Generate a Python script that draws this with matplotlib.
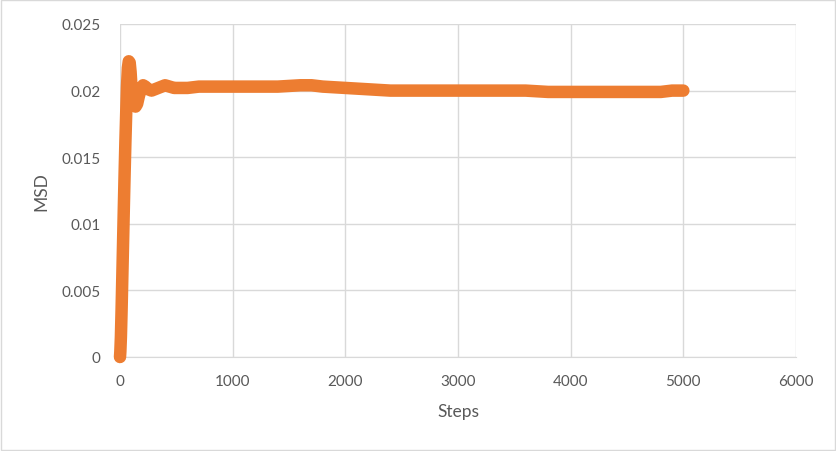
import matplotlib.pyplot as plt
from matplotlib.patches import Rectangle

# 读取的数据点（从图中估计）
steps = [0, 3, 8, 14, 20, 27, 34, 41, 48, 55, 62, 70, 78, 86, 94, 102, 112, 124,
         138, 152, 168, 185, 205, 225, 250, 280, 310, 340, 370, 400, 440, 480,
         520, 600, 700, 800, 900, 1000, 1200, 1400, 1600, 1700, 1800, 2000,
         2200, 2400, 2600, 2800, 3000, 3200, 3400, 3600, 3800, 4000, 4200,
         4400, 4600, 4800, 4900, 5000]
msd = [0.0, 0.0004, 0.0015, 0.0035, 0.0058, 0.0085, 0.0112, 0.0138, 0.0162,
       0.0183, 0.0203, 0.0217, 0.0222, 0.0221, 0.0214, 0.0203, 0.0195, 0.0190,
       0.0188, 0.0190, 0.0196, 0.0201, 0.0204, 0.0203, 0.0201, 0.0200, 0.0201,
       0.0202, 0.0203, 0.0204, 0.0203, 0.0202, 0.0202, 0.0202, 0.0203, 0.0203,
       0.0203, 0.0203, 0.0203, 0.0203, 0.0204, 0.0204, 0.0203, 0.0202,
       0.0201, 0.0200, 0.0200, 0.0200, 0.0200, 0.0200, 0.0200, 0.0200,
       0.0199, 0.0199, 0.0199, 0.0199, 0.0199, 0.0199, 0.0200, 0.0200]

x_ticks = [0, 1000, 2000, 3000, 4000, 5000, 6000]
y_ticks = [0, 0.005, 0.01, 0.015, 0.02, 0.025]
y_labels = ["0", "0.005", "0.01", "0.015", "0.02", "0.025"]

plt.rcParams['font.family'] = ['Lato', 'DejaVu Sans']
text_color = '#595959'
grid_color = '#D9D9D9'
orange = '#ED7D31'

fig = plt.figure(figsize=(8.37, 4.52), dpi=100)
ax = fig.add_axes([120 / 837, (452 - 358) / 452, 676 / 837, 333 / 452])

ax.plot(steps, msd, color=orange, linewidth=9,
        solid_capstyle='round', solid_joinstyle='round', zorder=3, clip_on=False)

ax.set_xlim(0, 6000)
ax.set_ylim(0, 0.025)
ax.set_xticks(x_ticks)
ax.set_yticks(y_ticks)
ax.set_yticklabels(y_labels)
ax.grid(True, color=grid_color, linewidth=1)
ax.set_axisbelow(True)
for s in ['top', 'right', 'left']:
    ax.spines[s].set_visible(False)
ax.spines['bottom'].set_color(grid_color)
ax.tick_params(length=0, labelsize=11, colors=text_color)
ax.tick_params(axis='y', pad=14)
ax.tick_params(axis='x', pad=12)
ax.set_xlabel("Steps", fontsize=12.5, color=text_color, labelpad=11)
ax.set_ylabel("MSD", fontsize=12.5, color=text_color, labelpad=9)

# 外边框
fig.patches.append(Rectangle((0.001, 0.002), 0.997, 0.995, transform=fig.transFigure,
                             fill=False, edgecolor='#D9D9D9', linewidth=1))

fig.savefig("out.png", dpi=100)
